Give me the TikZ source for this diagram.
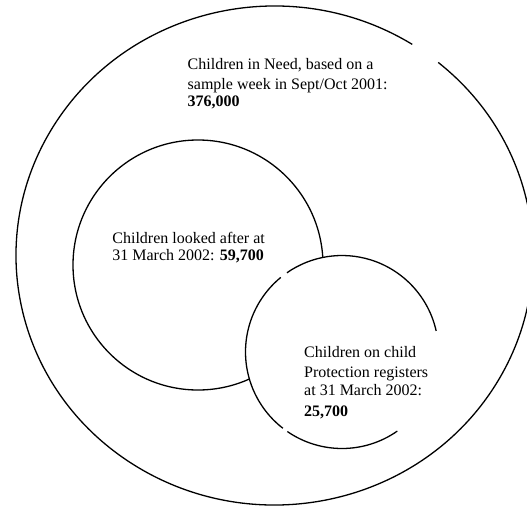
\documentclass[tikz,border=0pt]{standalone}
\usepackage{fontspec}
\setmainfont{Liberation Serif}
\begin{document}
\begin{tikzpicture}[x=1pt,y=1pt,
  ring/.style={line width=1.3pt, black},
  label/.style={align=left, anchor=north west, inner sep=0pt, font=\fontsize{16}{18}\selectfont}]
\useasboundingbox (0,0) rectangle (527,-506);
% large ellipse (Children in Need) with gap at upper right
\draw[ring] (274.5,-255.5) ++(57.8:258.5 and 249.5) arc[start angle=57.8, end angle=410.7, x radius=258.5, y radius=249.5];
% middle circle (looked after)
\draw[ring] (198,-265) circle[radius=125];
% small circle (protection registers), white-filled on top
\fill[white] (342,-352) circle[radius=96.5];
\draw[ring] (342,-352) ++(12.6:96.5) arc[start angle=12.6, end angle=124.8, radius=96.5];
\draw[ring] (342,-352) ++(129.4:96.5) arc[start angle=129.4, end angle=232.2, radius=96.5];
\draw[ring] (342,-352) ++(235.5:96.5) arc[start angle=235.5, end angle=305, radius=96.5];
% labels
\node[label] (need) at (187.5,-58.3) {Children in Need, based on a\\[1.7pt]sample week in Sept/Oct 2001:\\[-1.3pt]\textbf{376,000}};
\node[label] (looked) at (112.2,-232.3) {Children looked after at\\[-1pt]31 March 2002: \textbf{59,700}};
\node[label] (cpr) at (304,-346.3) {Children on child\\[2pt]Protection registers\\[-0.3pt]at 31 March 2002:\\[3pt]\textbf{25,700}};
\end{tikzpicture}
\end{document}
